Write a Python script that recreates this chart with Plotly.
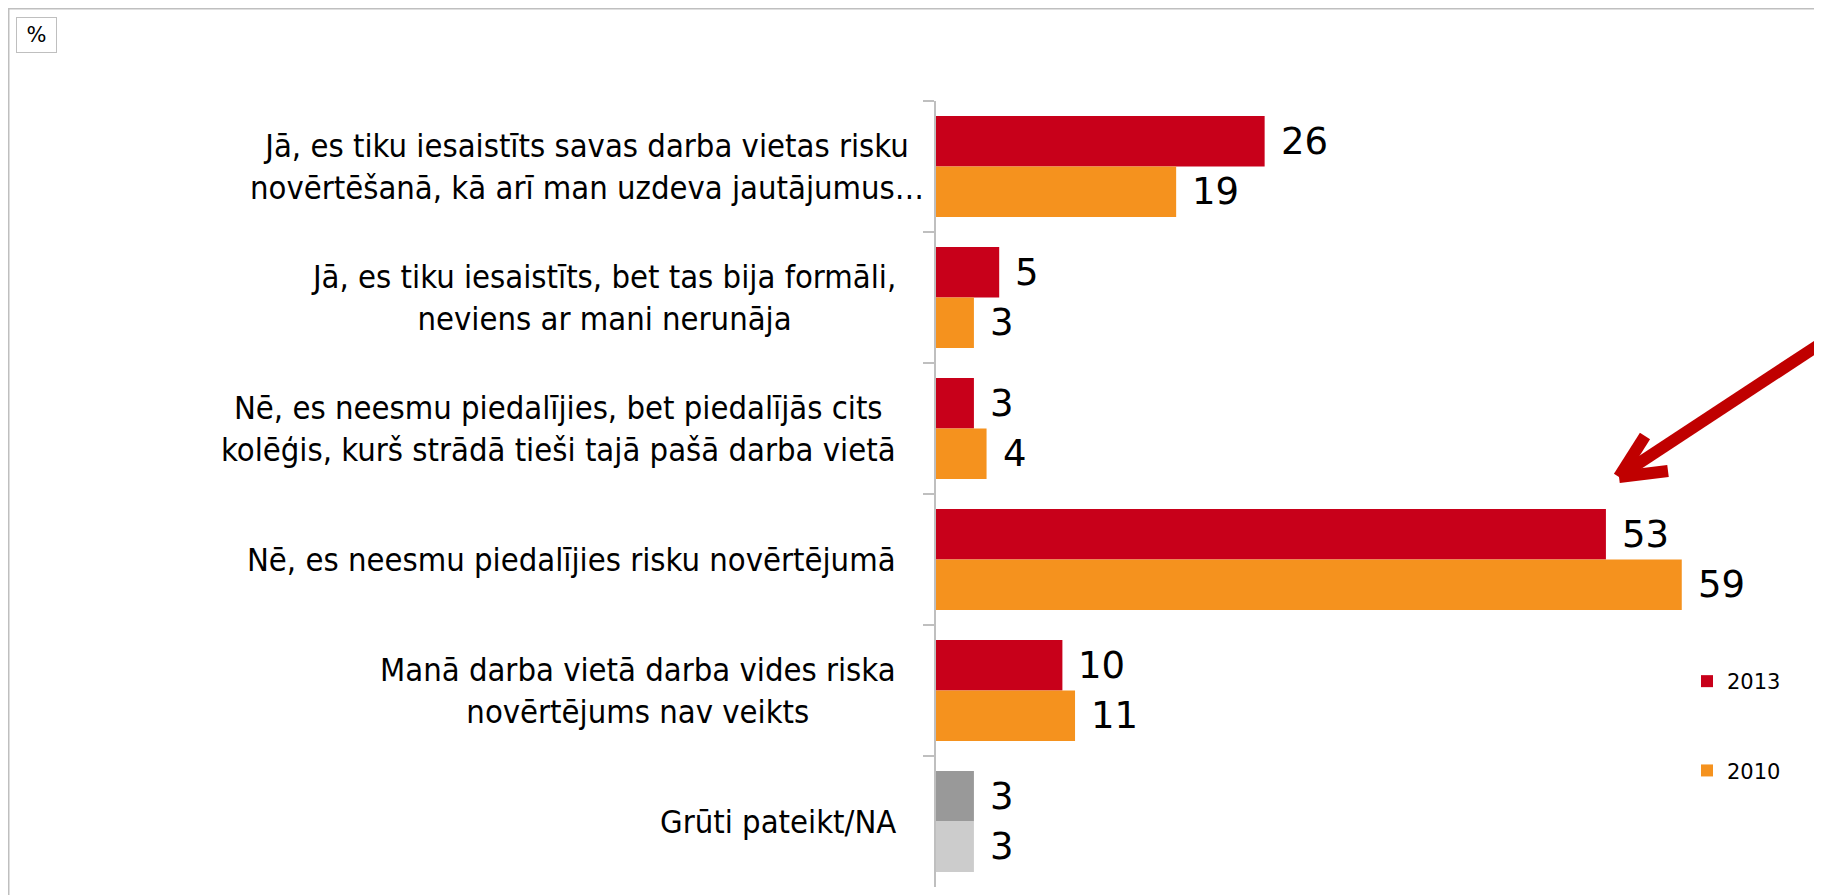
import plotly.graph_objects as go

categories = [
    "Jā, es tiku iesaistīts savas darba vietas risku<br>novērtēšanā, kā arī man uzdeva jautājumus…",
    "Jā, es tiku iesaistīts, bet tas bija formāli,<br>neviens ar mani nerunāja",
    "Nē, es neesmu piedalījies, bet piedalījās cits<br>kolēģis, kurš strādā tieši tajā pašā darba vietā",
    "Nē, es neesmu piedalījies risku novērtējumā",
    "Manā darba vietā darba vides riska<br>novērtējums nav veikts",
    "Grūti pateikt/NA",
]
series_names = ["2013", "2010"]
values_2013 = [26, 5, 3, 53, 10, 3]
values_2010 = [19, 3, 4, 59, 11, 3]

RED = "#C8001A"
ORANGE = "#F5921E"
GRAY_DARK = "#999999"
GRAY_LIGHT = "#CCCCCC"
FONT = "DejaVu Sans"
FONT_LABEL = "DejaVu Sans Condensed, DejaVu Sans"

# page has an 8px body margin; work in absolute page pixels and convert
OFF = 8
W, H = 1822 - OFF, 895 - OFF
PLOT_L, PLOT_T, PLOT_B = 936, 101, 887          # absolute page pixels
ML = PLOT_L - OFF
MT = PLOT_T - OFF
MR = 0
MB = H - MT - (PLOT_B - PLOT_T)
PW, PH = W - ML - MR, PLOT_B - PLOT_T


def px_x(px):
    return (px - PLOT_L) / PW


def px_y(py):
    return (PLOT_B - py) / PH


colors_2013 = [RED] * (len(categories) - 1) + [GRAY_DARK]
colors_2010 = [ORANGE] * (len(categories) - 1) + [GRAY_LIGHT]

fig = go.Figure()
fig.add_trace(go.Bar(
    y=categories, x=values_2013, orientation="h", name=series_names[0],
    marker=dict(color=colors_2013, line=dict(width=0)),
    legendgroup="a", hoverinfo="x+y",
))
fig.add_trace(go.Bar(
    y=categories, x=values_2010, orientation="h", name=series_names[1],
    marker=dict(color=colors_2010, line=dict(width=0)),
    legendgroup="b", hoverinfo="x+y",
))

annotations = []
for i, c in enumerate(categories):
    annotations.append(dict(
        xref="paper", x=0, xanchor="right", xshift=(-10 if i == 0 else -38),
        yref="y", y=c, yanchor="middle", align="center",
        text=c, showarrow=False,
        font=dict(family=FONT_LABEL, size=32.5, color="#000000"),
    ))
for vals, ys in ((values_2013, 25), (values_2010, -25)):
    for c, v in zip(categories, vals):
        annotations.append(dict(
            xref="x", x=v, xanchor="left", xshift=14,
            yref="y", y=c, yanchor="middle", yshift=ys,
            text=str(v), showarrow=False,
            font=dict(family=FONT, size=37, color="#000000"),
        ))
annotations.append(dict(
    xref="paper", x=px_x(36.5), xanchor="center",
    yref="paper", y=px_y(34.5), yanchor="middle",
    text="%", showarrow=False,
    font=dict(family=FONT, size=21, color="#000000"),
    bordercolor="#BFBFBF", borderwidth=1, borderpad=2,
    width=35, height=30, bgcolor="white",
))

ARROW = "#C00000"
shapes = [
    dict(type="rect", xref="paper", yref="paper",
         x0=px_x(8.75), y0=px_y(930), x1=px_x(1860), y1=px_y(8.75),
         line=dict(color="#BFBFBF", width=1.5), layer="below"),
    dict(type="line", xref="paper", yref="paper",
         x0=px_x(1840), y0=px_y(331), x1=px_x(1624), y1=px_y(473),
         line=dict(color=ARROW, width=12)),
    dict(type="line", xref="paper", yref="paper",
         x0=px_x(1619), y0=px_y(477), x1=px_x(1645), y1=px_y(436),
         line=dict(color=ARROW, width=12)),
    dict(type="line", xref="paper", yref="paper",
         x0=px_x(1619), y0=px_y(477), x1=px_x(1668), y1=px_y(471),
         line=dict(color=ARROW, width=12)),
]

fig.update_layout(
    width=W, height=H,
    margin=dict(l=ML, r=MR, t=MT, b=MB, pad=0),
    paper_bgcolor="white", plot_bgcolor="white",
    barmode="group", bargap=0.23, bargroupgap=0,
    font=dict(family=FONT, color="#000000"),
    showlegend=True,
    legend=dict(
        x=px_x(1687), xanchor="left", y=px_y(661), yanchor="top",
        font=dict(family=FONT, size=21, color="#000000"),
        bgcolor="rgba(0,0,0,0)", tracegroupgap=59,
        orientation="v", traceorder="grouped",
    ),
    xaxis=dict(range=[0, PW / 12.64], visible=False, fixedrange=True),
    yaxis=dict(
        autorange="reversed", showticklabels=False,
        showline=True, linecolor="#BFBFBF", linewidth=1.5,
        ticks="outside", ticklen=11, tickcolor="#BFBFBF", tickwidth=1.5,
        tickson="boundaries", showgrid=False, zeroline=False,
    ),
    annotations=annotations,
    shapes=shapes,
)

fig.write_html("out.html")
